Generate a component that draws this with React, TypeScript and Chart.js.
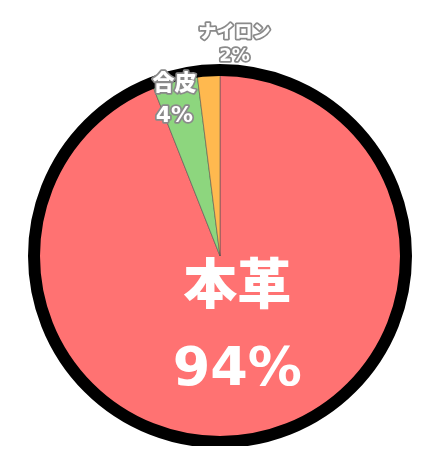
import { useEffect, useRef } from "react";
import { Chart, registerables } from "chart.js";

Chart.register(...registerables);

const categories = ["本革", "合皮", "ナイロン"];
const shares = [94, 4, 2];
const sliceColors = ["#ff7272", "#8dd67e", "#ffb94f"];

const FONT = '"DejaVu Sans", "Noto Sans CJK JP", sans-serif';

// label style per slice: font size, line gap, radial factor, nudge, outline
const labelStyles = [
  { size: 54, gap: 81, factor: 0.41, dx: 3, dy: 0, stroke: null as string | null },
  { size: 22, gap: 32, factor: 0.876, dx: -5, dy: 2, stroke: "#8a8a8a" },
  { size: 18, gap: 23, factor: 1.15, dx: 28, dy: 2, stroke: "#8a8a8a" },
];

const ringAndLabels = {
  id: "ringAndLabels",
  afterDatasetsDraw(chart: any) {
    const meta = chart.getDatasetMeta(0);
    const arcs = meta.data;
    if (!arcs.length) return;
    const ctx = chart.ctx;
    const { x, y, outerRadius } = arcs[0].getProps(["x", "y", "outerRadius"], true);

    // thick black outline round the pie
    ctx.save();
    ctx.beginPath();
    ctx.arc(x, y, outerRadius, 0, Math.PI * 2);
    ctx.lineWidth = 12;
    ctx.strokeStyle = "#000";
    ctx.stroke();
    ctx.restore();

    arcs.forEach((arc: any, i: number) => {
      const p = arc.getProps(["startAngle", "endAngle"], true);
      const mid = (p.startAngle + p.endAngle) / 2;
      const st = labelStyles[i];
      const d = outerRadius * st.factor;
      const cx = x + Math.cos(mid) * d + st.dx;
      const cy = y + Math.sin(mid) * d + st.dy;
      const lines = [categories[i], shares[i] + "%"];
      ctx.save();
      ctx.font = `900 ${st.size}px ${FONT}`;
      ctx.textAlign = "center";
      ctx.textBaseline = "middle";
      ctx.lineJoin = "round";
      lines.forEach((t, k) => {
        const ly = cy + (k - 0.5) * st.gap;
        if (st.stroke) {
          ctx.lineWidth = 3.5;
          ctx.strokeStyle = st.stroke;
          ctx.strokeText(t, cx, ly);
        }
        ctx.fillStyle = "#fff";
        ctx.fillText(t, cx, ly);
      });
      ctx.restore();
    });
  },
};

export default function App() {
  const canvasRef = useRef<HTMLCanvasElement>(null);

  useEffect(() => {
    if (!canvasRef.current) return;
    const chart = new Chart(canvasRef.current, {
      type: "pie",
      data: {
        labels: categories,
        datasets: [
          {
            data: shares,
            backgroundColor: sliceColors,
            borderColor: "rgba(80,80,80,0.55)",
            borderWidth: 1,
          },
        ],
      },
      options: {
        animation: false,
        responsive: true,
        maintainAspectRatio: false,
        radius: 186,
        layout: { padding: { left: 0, right: 7, top: 58, bottom: 0 } },
        plugins: {
          legend: { display: false },
          tooltip: { enabled: false },
        },
      } as any,
      plugins: [ringAndLabels],
    });
    return () => chart.destroy();
  }, []);

  return (
    <div style={{ width: 431, height: 438, position: "relative" }}>
      <canvas ref={canvasRef} />
    </div>
  );
}
